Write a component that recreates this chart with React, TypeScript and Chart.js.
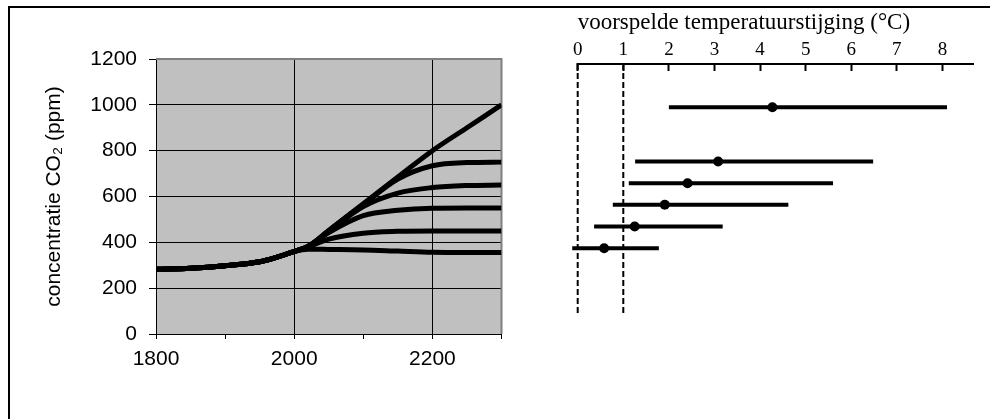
import React, { useEffect, useRef } from 'react';
import { Chart, registerables } from 'chart.js';

Chart.register(...registerables);

// ---- Left panel data: CO2 concentration scenarios (ppm) ----
const years = [1800, 1850, 1900, 1950, 1975, 2000, 2020, 2050, 2100, 2150, 2200, 2250, 2300];
const scenario1000 = [282, 287, 298, 315, 335, 360, 382, 452, 569, 685, 800, 900, 1000];
const scenario750 = [282, 287, 298, 315, 335, 360, 382, 451, 565, 676, 734, 748, 750];
const scenario650 = [282, 287, 298, 315, 335, 360, 382, 449, 556, 615, 639, 648, 650];
const scenario550 = [282, 287, 298, 315, 335, 360, 382, 443, 517, 540, 549, 550, 550];
const scenario450 = [282, 287, 298, 315, 335, 360, 380, 414, 440, 448, 450, 450, 450];
const scenario350 = [282, 287, 298, 315, 335, 360, 370, 369, 367, 362, 357, 356, 356];
const scenarios = [scenario1000, scenario750, scenario650, scenario550, scenario450, scenario350];

// ---- Right panel data: predicted temperature rise (°C) ----
const co2Levels = [1000, 750, 650, 550, 450, 350];
const tempLow = [2.0, 1.26, 1.12, 0.77, 0.36, -0.12];
const tempBest = [4.27, 3.08, 2.41, 1.91, 1.25, 0.58];
const tempHigh = [8.1, 6.48, 5.6, 4.62, 3.18, 1.78];
const dashedRefs = [0, 1];
const dashedTop = 1200;
const dashedBottom = 50;
const tempTicks = [0, 1, 2, 3, 4, 5, 6, 7, 8];

const SANS = "'Liberation Sans', Arial, sans-serif";
const SERIF = "'Liberation Serif', 'Times New Roman', serif";

const plotBgPlugin = {
  id: 'plotBg',
  beforeDraw(chart: any) {
    const { ctx, chartArea } = chart;
    ctx.save();
    ctx.fillStyle = '#c0c0c0';
    ctx.fillRect(chartArea.left, chartArea.top, chartArea.right - chartArea.left, chartArea.bottom - chartArea.top);
    ctx.restore();
  },
  beforeDatasetsDraw(chart: any) {
    const { ctx, chartArea } = chart;
    ctx.save();
    ctx.strokeStyle = '#808080';
    ctx.lineWidth = 2;
    ctx.beginPath();
    ctx.moveTo(chartArea.left, chartArea.top);
    ctx.lineTo(chartArea.right, chartArea.top);
    ctx.lineTo(chartArea.right, chartArea.bottom);
    ctx.stroke();
    ctx.restore();
  },
};

export default function App() {
  const leftRef = useRef<HTMLCanvasElement>(null);
  const rightRef = useRef<HTMLCanvasElement>(null);

  useEffect(() => {
    const left = new Chart(leftRef.current as HTMLCanvasElement, {
      type: 'line',
      data: {
        datasets: scenarios.map((vals) => ({
          data: years.map((yr, i) => ({ x: yr, y: vals[i] })),
          borderColor: '#000',
          borderWidth: 5,
          pointRadius: 0,
          fill: false,
          cubicInterpolationMode: 'monotone' as const,
        })),
      },
      options: {
        animation: false,
        responsive: false,
        layout: { padding: { left: 20, top: 59, right: 38.5, bottom: 35 } },
        plugins: { legend: { display: false }, tooltip: { enabled: false } },
        scales: {
          x: {
            type: 'linear',
            min: 1800,
            max: 2300,
            afterFit: (s: any) => { s.height = 50; },
            ticks: {
              stepSize: 100,
              autoSkip: false,
              maxRotation: 0,
              color: '#000',
              padding: 8,
              font: { family: SANS, size: 21 },
              callback: (v: any) => (Number(v) % 200 === 0 ? String(v) : ''),
            },
            grid: {
              color: (c: any) => (c.tick && c.tick.value === 2300 ? '#808080' : c.tick && c.tick.value % 200 === 0 ? '#000' : 'rgba(0,0,0,0)'),
              lineWidth: 1,
              tickLength: 5,
              tickColor: '#000',
              tickWidth: 1,
            },
            border: { color: '#000', width: 1 },
          },
          y: {
            min: 0,
            max: 1200,
            afterFit: (s: any) => { s.width = 136; },
            ticks: {
              stepSize: 200,
              color: '#000',
              padding: 12,
              font: { family: SANS, size: 21 },
              callback: (v: any) => String(v),
            },
            grid: {
              color: (c: any) => (c.tick && c.tick.value === 1200 ? '#808080' : '#000'),
              lineWidth: 1,
              tickLength: 7,
              tickColor: '#000',
              tickWidth: 1,
            },
            border: { color: '#000', width: 1 },
            title: {
              display: true,
              text: 'concentratie CO₂ (ppm)',
              color: '#000',
              font: { family: SANS, size: 21 },
              padding: { top: 22, bottom: 0 },
            },
          },
        },
      },
      plugins: [plotBgPlugin],
    } as any);

    const barDatasets = co2Levels.map((lvl, i) => ({
      type: 'scatter' as const,
      data: [
        { x: tempLow[i], y: lvl },
        { x: tempHigh[i], y: lvl },
      ],
      showLine: true,
      borderColor: '#000',
      borderWidth: 4,
      pointRadius: 0,
      clip: false as const,
    }));
    const dashDatasets = dashedRefs.map((t) => ({
      type: 'scatter' as const,
      data: [
        { x: t, y: dashedTop },
        { x: t, y: dashedBottom },
      ],
      showLine: true,
      borderColor: '#000',
      borderWidth: 2,
      borderDash: [6, 3],
      pointRadius: 0,
      clip: false as const,
    }));
    const dotDataset = {
      type: 'scatter' as const,
      data: co2Levels.map((lvl, i) => ({ x: tempBest[i], y: lvl })),
      pointRadius: 5,
      pointBackgroundColor: '#000',
      pointBorderWidth: 0,
      showLine: false,
      clip: false as const,
    };

    const right = new Chart(rightRef.current as HTMLCanvasElement, {
      type: 'scatter',
      data: { datasets: [dotDataset, ...barDatasets, ...dashDatasets] },
      options: {
        animation: false,
        responsive: false,
        layout: { padding: { left: 37.7, right: 17, top: 0, bottom: 95 } },
        plugins: { legend: { display: false }, tooltip: { enabled: false } },
        scales: {
          x: {
            type: 'linear',
            position: 'top',
            min: 0,
            max: 8.67,
            afterFit: (s: any) => { s.height = 64; },
            afterBuildTicks: (s: any) => {
              s.ticks = tempTicks.map((v) => ({ value: v }));
            },
            ticks: {
              autoSkip: false,
              maxRotation: 0,
              color: '#000',
              padding: 10,
              font: { family: SERIF, size: 19 },
              callback: (v: any) => String(v),
            },
            grid: {
              drawOnChartArea: false,
              tickLength: -7,
              tickColor: '#000',
              tickWidth: 2,
            },
            border: { color: '#000', width: 2 },
            title: {
              display: true,
              text: 'voorspelde temperatuurstijging (°C)',
              align: 'start',
              color: '#000',
              font: { family: SERIF, size: 23 },
              padding: { top: 9, bottom: 0 },
            },
          },
          y: { display: false, min: 0, max: 1200 },
        },
      },
    } as any);

    return () => {
      left.destroy();
      right.destroy();
    };
  }, []);

  return (
    <div>
      <div
        style={{
          position: 'fixed',
          left: 8,
          top: 6,
          width: 1000,
          height: 500,
          border: '2px solid #000',
          boxSizing: 'border-box',
        }}
      />
      <canvas
        ref={leftRef}
        width={540}
        height={419}
        style={{ position: 'fixed', left: 0, top: 0, width: 540, height: 419 }}
      />
      <canvas
        ref={rightRef}
        width={450}
        height={419}
        style={{ position: 'fixed', left: 540, top: 0, width: 450, height: 419 }}
      />
    </div>
  );
}
